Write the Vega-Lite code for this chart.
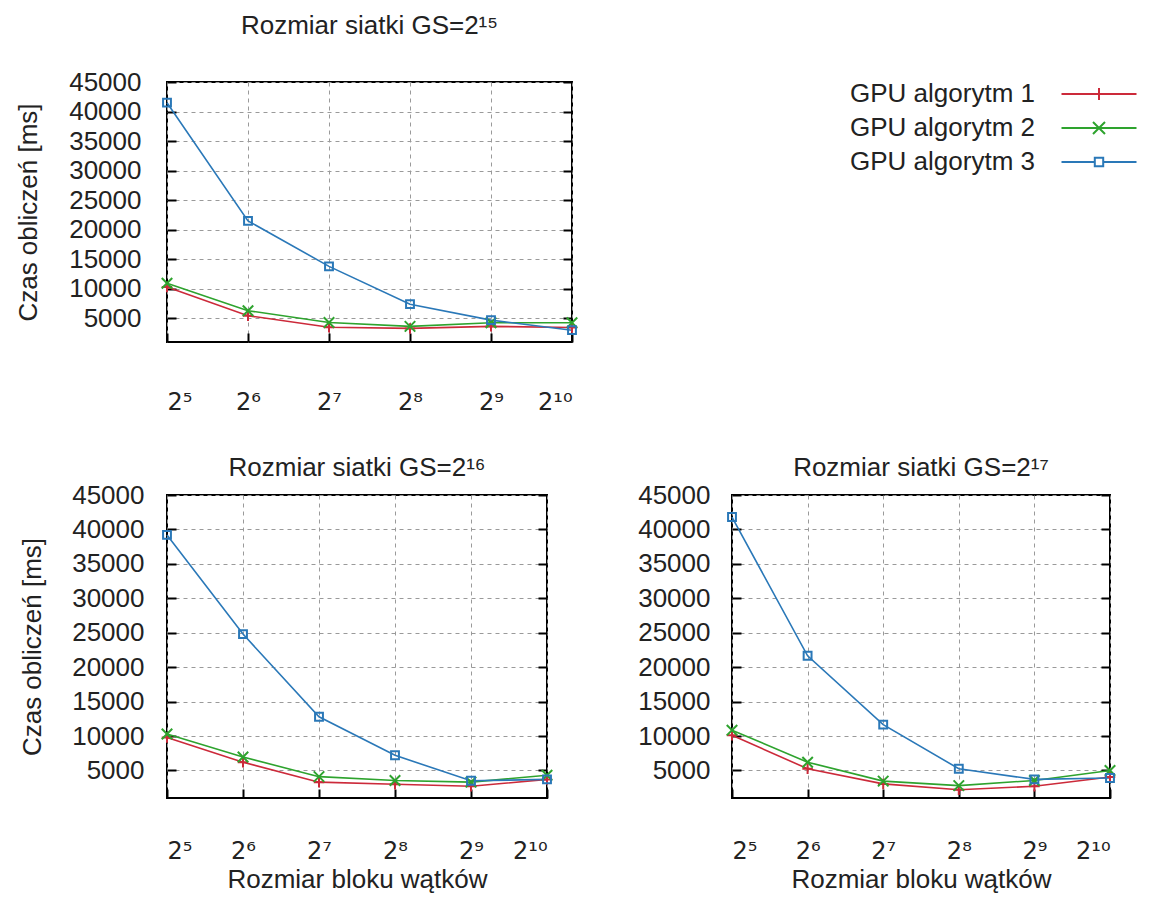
{
  "$schema": "https://vega.github.io/schema/vega-lite/v6.json",
  "padding": {"left": 14, "top": 12, "right": 5, "bottom": 5},
  "background": "#ffffff",
  "datasets": {
    "timings": [
      {"gs": "15", "block": 32, "series": "GPU algorytm 1", "time": 10300},
      {"gs": "15", "block": 64, "series": "GPU algorytm 1", "time": 5450},
      {"gs": "15", "block": 128, "series": "GPU algorytm 1", "time": 3500},
      {"gs": "15", "block": 256, "series": "GPU algorytm 1", "time": 3300},
      {"gs": "15", "block": 512, "series": "GPU algorytm 1", "time": 3650},
      {"gs": "15", "block": 1024, "series": "GPU algorytm 1", "time": 3450},
      {"gs": "15", "block": 32, "series": "GPU algorytm 2", "time": 10950},
      {"gs": "15", "block": 64, "series": "GPU algorytm 2", "time": 6300},
      {"gs": "15", "block": 128, "series": "GPU algorytm 2", "time": 4300},
      {"gs": "15", "block": 256, "series": "GPU algorytm 2", "time": 3650},
      {"gs": "15", "block": 512, "series": "GPU algorytm 2", "time": 4250},
      {"gs": "15", "block": 1024, "series": "GPU algorytm 2", "time": 4250},
      {"gs": "15", "block": 32, "series": "GPU algorytm 3", "time": 41500},
      {"gs": "15", "block": 64, "series": "GPU algorytm 3", "time": 21500},
      {"gs": "15", "block": 128, "series": "GPU algorytm 3", "time": 13800},
      {"gs": "15", "block": 256, "series": "GPU algorytm 3", "time": 7400},
      {"gs": "15", "block": 512, "series": "GPU algorytm 3", "time": 4700},
      {"gs": "15", "block": 1024, "series": "GPU algorytm 3", "time": 3000},
      {"gs": "16", "block": 32, "series": "GPU algorytm 1", "time": 9800},
      {"gs": "16", "block": 64, "series": "GPU algorytm 1", "time": 6200},
      {"gs": "16", "block": 128, "series": "GPU algorytm 1", "time": 3300},
      {"gs": "16", "block": 256, "series": "GPU algorytm 1", "time": 3000},
      {"gs": "16", "block": 512, "series": "GPU algorytm 1", "time": 2700},
      {"gs": "16", "block": 1024, "series": "GPU algorytm 1", "time": 3700},
      {"gs": "16", "block": 32, "series": "GPU algorytm 2", "time": 10300},
      {"gs": "16", "block": 64, "series": "GPU algorytm 2", "time": 6950},
      {"gs": "16", "block": 128, "series": "GPU algorytm 2", "time": 4100},
      {"gs": "16", "block": 256, "series": "GPU algorytm 2", "time": 3550},
      {"gs": "16", "block": 512, "series": "GPU algorytm 2", "time": 3300},
      {"gs": "16", "block": 1024, "series": "GPU algorytm 2", "time": 4300},
      {"gs": "16", "block": 32, "series": "GPU algorytm 3", "time": 39200},
      {"gs": "16", "block": 64, "series": "GPU algorytm 3", "time": 24800},
      {"gs": "16", "block": 128, "series": "GPU algorytm 3", "time": 12800},
      {"gs": "16", "block": 256, "series": "GPU algorytm 3", "time": 7200},
      {"gs": "16", "block": 512, "series": "GPU algorytm 3", "time": 3500},
      {"gs": "16", "block": 1024, "series": "GPU algorytm 3", "time": 3700},
      {"gs": "17", "block": 32, "series": "GPU algorytm 1", "time": 10100},
      {"gs": "17", "block": 64, "series": "GPU algorytm 1", "time": 5250},
      {"gs": "17", "block": 128, "series": "GPU algorytm 1", "time": 3050},
      {"gs": "17", "block": 256, "series": "GPU algorytm 1", "time": 2200},
      {"gs": "17", "block": 512, "series": "GPU algorytm 1", "time": 2700},
      {"gs": "17", "block": 1024, "series": "GPU algorytm 1", "time": 4050},
      {"gs": "17", "block": 32, "series": "GPU algorytm 2", "time": 10850},
      {"gs": "17", "block": 64, "series": "GPU algorytm 2", "time": 6200},
      {"gs": "17", "block": 128, "series": "GPU algorytm 2", "time": 3450},
      {"gs": "17", "block": 256, "series": "GPU algorytm 2", "time": 2800},
      {"gs": "17", "block": 512, "series": "GPU algorytm 2", "time": 3550},
      {"gs": "17", "block": 1024, "series": "GPU algorytm 2", "time": 5000},
      {"gs": "17", "block": 32, "series": "GPU algorytm 3", "time": 41800},
      {"gs": "17", "block": 64, "series": "GPU algorytm 3", "time": 21650},
      {"gs": "17", "block": 128, "series": "GPU algorytm 3", "time": 11650},
      {"gs": "17", "block": 256, "series": "GPU algorytm 3", "time": 5250},
      {"gs": "17", "block": 512, "series": "GPU algorytm 3", "time": 3700},
      {"gs": "17", "block": 1024, "series": "GPU algorytm 3", "time": 3900}
    ]
  },
  "config": {
    "font": "Liberation Sans",
    "view": {"stroke": "#000000", "strokeWidth": 2},
    "axis": {
      "labelFontSize": 26,
      "titleFontSize": 26,
      "titleFontWeight": "normal",
      "labelColor": "#222222",
      "titleColor": "#222222",
      "domain": false,
      "tickColor": "#000000",
      "tickWidth": 2,
      "tickSize": -9,
      "gridColor": "#9a9a9a",
      "gridDash": [4, 4],
      "gridWidth": 1
    },
    "axisY": {"format": "d"},
    "axisX": {"labelFont": "DejaVu Sans", "labelFontSize": 24},
    "title": {"fontSize": 26, "fontWeight": "normal", "color": "#222222", "anchor": "middle", "frame": "group", "baseline": "alphabetic"}
  },
  "resolve": {"legend": {"color": "independent"}},
  "spacing": 39,
  "vconcat": [
    {
      "width": 405,
      "height": 260,
      "title": {"text": "Rozmiar siatki  GS=2¹⁵", "offset": 30},
      "data": {"name": "timings"},
      "transform": [{"filter": "datum.gs == '15'"}],
      "encoding": {
        "x": {
          "field": "block", "type": "quantitative",
          "scale": {"type": "log", "base": 2, "domain": [32, 1024], "nice": false},
          "axis": {
            "values": [32, 64, 128, 256, 512, 1024],
            "labelExpr": "datum.value == 32 ? '2⁵' : datum.value == 64 ? '2⁶' : datum.value == 128 ? '2⁷' : datum.value == 256 ? '2⁸' : datum.value == 512 ? '2⁹' : '2¹⁰'",
            "title": null, "grid": true, "labelPadding": 57
          }
        },
        "color": {
          "field": "series", "type": "nominal",
          "scale": {"domain": ["GPU algorytm 1", "GPU algorytm 2", "GPU algorytm 3"], "range": ["#cc2a3a", "#2ea32e", "#2a78b8"]},
          "legend": {
            "orient": "none", "legendX": 919, "legendY": -1, "title": null,
            "labelFontSize": 26, "labelColor": "#222222", "labelAlign": "right", "labelOffset": -77, "labelLimit": 400,
            "symbolSize": 144, "symbolStrokeWidth": 2, "rowPadding": 8,
            "encode": {
              "symbols": {
                "update": {
                  "shape": {"signal": "datum.value === 'GPU algorytm 1' ? 'M-6.25,0H6.25M0,-1V1' : datum.value === 'GPU algorytm 2' ? 'M-6.25,0H6.25M-1,-1L1,1M-1,1L1,-1' : 'M-6.25,0H-0.7M0.7,0H6.25M-0.7,-0.7H0.7V0.7H-0.7Z'"},
                  "fill": {"value": "transparent"},
                  "strokeWidth": {"value": 2}
                }
              }
            }
          }
        }
      },
      "layer": [
        {
          "mark": {"type": "line", "strokeWidth": 1.6},
          "encoding": {
            "y": {
              "field": "time", "type": "quantitative",
              "scale": {"domain": [1000, 45000], "nice": false, "zero": false},
              "axis": {"values": [5000, 10000, 15000, 20000, 25000, 30000, 35000, 40000, 45000], "title": "Czas obliczeń [ms]", "labelPadding": 35, "titlePadding": 27, "grid": true}
            }
          }
        },
        {
          "mark": {"type": "point", "filled": false, "size": 110, "strokeWidth": 2, "opacity": 1},
          "encoding": {
            "y": {
              "field": "time", "type": "quantitative",
              "scale": {"domain": [1000, 45000], "nice": false, "zero": false},
              "axis": {"orient": "right", "values": [5000, 10000, 15000, 20000, 25000, 30000, 35000, 40000, 45000], "labels": false, "title": null, "grid": false}
            },
            "shape": {
              "field": "series", "type": "nominal",
              "scale": {"domain": ["GPU algorytm 1", "GPU algorytm 2", "GPU algorytm 3"], "range": ["M-1,0H1M0,-1V1", "M-1,-1L1,1M-1,1L1,-1", "M-0.75,-0.75H0.75V0.75H-0.75Z"]},
              "legend": null
            }
          }
        }
      ],
      "resolve": {"scale": {"y": "independent"}}
    },
    {
      "spacing": 78,
      "hconcat": [
        {
          "width": 380,
          "height": 303,
          "title": {"text": "Rozmiar siatki  GS=2¹⁶", "offset": 1},
          "data": {"name": "timings"},
          "transform": [{"filter": "datum.gs == '16'"}],
          "encoding": {
            "x": {
              "field": "block", "type": "quantitative",
              "scale": {"type": "log", "base": 2, "domain": [32, 1024], "nice": false},
              "axis": {
                "values": [32, 64, 128, 256, 512, 1024],
                "labelExpr": "datum.value == 32 ? '2⁵' : datum.value == 64 ? '2⁶' : datum.value == 128 ? '2⁷' : datum.value == 256 ? '2⁸' : datum.value == 512 ? '2⁹' : '2¹⁰'",
                "title": "Rozmiar bloku wątków", "grid": true, "labelPadding": 50, "titlePadding": 3
              }
            },
            "color": {
              "field": "series", "type": "nominal",
              "scale": {"domain": ["GPU algorytm 1", "GPU algorytm 2", "GPU algorytm 3"], "range": ["#cc2a3a", "#2ea32e", "#2a78b8"]},
              "legend": null
            }
          },
          "layer": [
            {
              "mark": {"type": "line", "strokeWidth": 1.6},
              "encoding": {
                "y": {
                  "field": "time", "type": "quantitative",
                  "scale": {"domain": [1000, 45000], "nice": false, "zero": false},
                  "axis": {"values": [5000, 10000, 15000, 20000, 25000, 30000, 35000, 40000, 45000], "title": "Czas obliczeń [ms]", "labelPadding": 32, "titlePadding": 26, "grid": true}
                }
              }
            },
            {
              "mark": {"type": "point", "filled": false, "size": 110, "strokeWidth": 2, "opacity": 1},
              "encoding": {
                "y": {
                  "field": "time", "type": "quantitative",
                  "scale": {"domain": [1000, 45000], "nice": false, "zero": false},
                  "axis": {"orient": "right", "values": [5000, 10000, 15000, 20000, 25000, 30000, 35000, 40000, 45000], "labels": false, "title": null, "grid": false}
                },
                "shape": {
                  "field": "series", "type": "nominal",
                  "scale": {"domain": ["GPU algorytm 1", "GPU algorytm 2", "GPU algorytm 3"], "range": ["M-1,0H1M0,-1V1", "M-1,-1L1,1M-1,1L1,-1", "M-0.75,-0.75H0.75V0.75H-0.75Z"]},
                  "legend": null
                }
              }
            }
          ],
          "resolve": {"scale": {"y": "independent"}}
        },
        {
          "width": 378,
          "height": 303,
          "title": {"text": "Rozmiar siatki  GS=2¹⁷", "offset": 1},
          "data": {"name": "timings"},
          "transform": [{"filter": "datum.gs == '17'"}],
          "encoding": {
            "x": {
              "field": "block", "type": "quantitative",
              "scale": {"type": "log", "base": 2, "domain": [32, 1024], "nice": false},
              "axis": {
                "values": [32, 64, 128, 256, 512, 1024],
                "labelExpr": "datum.value == 32 ? '2⁵' : datum.value == 64 ? '2⁶' : datum.value == 128 ? '2⁷' : datum.value == 256 ? '2⁸' : datum.value == 512 ? '2⁹' : '2¹⁰'",
                "title": "Rozmiar bloku wątków", "grid": true, "labelPadding": 50, "titlePadding": 3
              }
            },
            "color": {
              "field": "series", "type": "nominal",
              "scale": {"domain": ["GPU algorytm 1", "GPU algorytm 2", "GPU algorytm 3"], "range": ["#cc2a3a", "#2ea32e", "#2a78b8"]},
              "legend": null
            }
          },
          "layer": [
            {
              "mark": {"type": "line", "strokeWidth": 1.6},
              "encoding": {
                "y": {
                  "field": "time", "type": "quantitative",
                  "scale": {"domain": [1000, 45000], "nice": false, "zero": false},
                  "axis": {"values": [5000, 10000, 15000, 20000, 25000, 30000, 35000, 40000, 45000], "title": null, "labelPadding": 31, "grid": true}
                }
              }
            },
            {
              "mark": {"type": "point", "filled": false, "size": 110, "strokeWidth": 2, "opacity": 1},
              "encoding": {
                "y": {
                  "field": "time", "type": "quantitative",
                  "scale": {"domain": [1000, 45000], "nice": false, "zero": false},
                  "axis": {"orient": "right", "values": [5000, 10000, 15000, 20000, 25000, 30000, 35000, 40000, 45000], "labels": false, "title": null, "grid": false}
                },
                "shape": {
                  "field": "series", "type": "nominal",
                  "scale": {"domain": ["GPU algorytm 1", "GPU algorytm 2", "GPU algorytm 3"], "range": ["M-1,0H1M0,-1V1", "M-1,-1L1,1M-1,1L1,-1", "M-0.75,-0.75H0.75V0.75H-0.75Z"]},
                  "legend": null
                }
              }
            }
          ],
          "resolve": {"scale": {"y": "independent"}}
        }
      ]
    }
  ]
}
